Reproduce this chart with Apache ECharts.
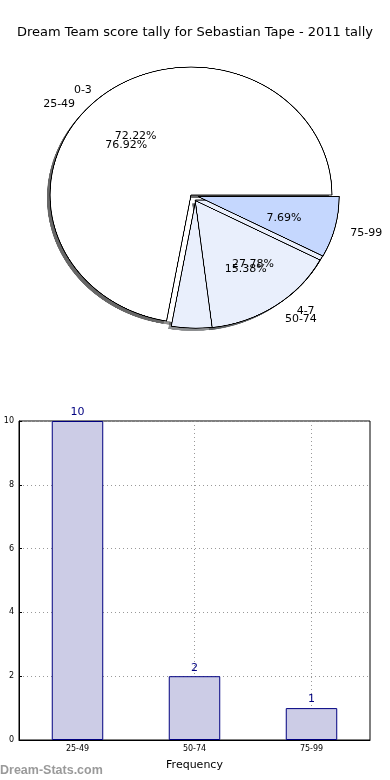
<!DOCTYPE html>
<html><head><meta charset="utf-8">
<script src="https://cdn.jsdelivr.net/npm/echarts@6/dist/echarts.min.js"></script>
<style>
html,body{margin:0;padding:0;background:#fff}
#wrap{position:relative;width:390px;height:780px}
#p{position:absolute;left:0;top:0;width:390px;height:400px;transform-origin:191px 195px;transform:scale(1.052,0.955)}
#c{position:absolute;left:0;top:0;width:390px;height:780px}
</style>
</head><body><div id="wrap"><div id="p"></div><div id="c"></div></div>
<script>
const titleText = 'Dream Team score tally for Sebastian Tape - 2011 tally';
const watermark = 'Dream-Stats.com';
const pieACats = ['0-3', '4-7'];
const pieAVals = [13, 5];
const pieAExplode = [false, true];
const pieBCats = ['25-49', '50-74', '75-99'];
const pieBVals = [10, 2, 1];
const pieBExplode = [false, true, true];
const barCats = ['25-49', '50-74', '75-99'];
const barVals = [10, 2, 1];
const yTicks = [0, 2, 4, 6, 8, 10];
const xName = 'Frequency';
const yName = 'Score Interval';

const CLEAR = 'rgba(255,255,255,0)';
const pieAColors = ['#ffffff', '#e9effc'];
const pieBColors = [CLEAR, '#e9effc', '#c5d7fe'];
const pieBUnder = ['#ffffff', CLEAR, CLEAR];
const pieAShadow = ['rgba(77,77,77,0.62)', 'rgba(70,72,76,0.62)'];
const pieBShadow = ['rgba(77,77,77,0.62)', 'rgba(70,72,76,0.62)', 'rgba(59,65,76,0.62)'];
const R = 134, C = [191, 195], EXP = 7;
const SX = 1.052, SY = 0.955;   // matplotlib's elliptical axes aspect
const SC = [C[0] - 3, C[1] + 3];
const FONT = 'DejaVu Sans';

function base(center, radius, z) {
  return {
    type: 'pie', z: z, center: center, radius: [0, radius], startAngle: 0, clockwise: false,
    selectedMode: 'multiple', selectedOffset: EXP, avoidLabelOverlap: false, silent: true,
    labelLayout: { hideOverlap: false }, emphasis: { disabled: true }, labelLine: { show: false }
  };
}
// move labels onto the same ellipse as the stretched wedges
function ellipseLabel(p) {
  const r = p.labelRect;
  const x = r.x + r.width / 2, y = r.y + r.height / 2;
  return { hideOverlap: false, dx: (x - C[0]) * (SX - 1) + 1, dy: (y - C[1]) * (SY - 1) + 2.5 };
}
function plainSeries(center, z, cats, vals, expl, colors, border) {
  return Object.assign(base(center, R, z), {
    itemStyle: border ? { borderColor: '#000', borderWidth: 1 } : { borderWidth: 0 },
    label: { show: false },
    data: cats.map((n, i) => {
      const it = { name: n, value: vals[i], selected: expl[i], itemStyle: { color: colors[i] } };
      if (colors[i] === CLEAR) it.itemStyle.borderWidth = 0;
      return it;
    })
  });
}
function nameSeries(cats, vals, expl) {
  return Object.assign(base(C, R, 4), {
    itemStyle: { color: 'rgba(0,0,0,0)', borderWidth: 0 },
    label: { show: true, position: 'outside', formatter: '{b}', fontSize: 11, color: '#000', fontFamily: FONT, distanceToLabelLine: 0 },
    labelLine: { show: false, length: R * 0.1, length2: 0 },
    labelLayout: ellipseLabel,
    data: cats.map((n, i) => ({ name: n, value: vals[i], selected: expl[i] }))
  });
}
function pctSeries(cats, vals, expl) {
  const total = vals.reduce((a, b) => a + b, 0);
  return Object.assign(base(C, R * 1.2, 5), {
    itemStyle: { color: 'rgba(0,0,0,0)', borderWidth: 0 },
    label: { show: true, position: 'inside', formatter: p => (p.value / total * 100).toFixed(2) + '%', fontSize: 11, color: '#000', fontFamily: FONT, rotate: 0, textBorderWidth: 0 },
    labelLayout: ellipseLabel,
    data: cats.map((n, i) => ({ name: n, value: vals[i], selected: expl[i] }))
  });
}

// pie wedges (drawn in a container stretched into matplotlib's elliptical aspect)
const pieChart = echarts.init(document.getElementById('p'), null, { renderer: 'canvas', devicePixelRatio: 3 });
pieChart.setOption({
  animation: false,
  series: [
    plainSeries(SC, 1, pieACats, pieAVals, pieAExplode, pieAShadow, false),
    plainSeries(SC, 1, pieBCats, pieBVals, pieBExplode, pieBShadow, false),
    plainSeries(C, 2, pieBCats, pieBVals, pieBExplode, pieBUnder, false),
    plainSeries(C, 3, pieACats, pieAVals, pieAExplode, pieAColors, true),
    plainSeries(C, 3, pieBCats, pieBVals, pieBExplode, pieBColors, true)
  ]
});

const chart = echarts.init(document.getElementById('c'), null, { renderer: 'canvas' });
chart.setOption({
  animation: false,
  backgroundColor: 'transparent',
  textStyle: { fontFamily: FONT },
  title: [
    { text: titleText, left: 'center', top: 21, textStyle: { fontSize: 13, fontWeight: 'normal', color: '#000', fontFamily: FONT } },
    { text: watermark, left: -5, bottom: -2, textStyle: { fontSize: 12.5, fontWeight: 'bold', color: '#9a9a9a', fontFamily: 'Liberation Sans' } }
  ],
  grid: { left: 19, right: 20, top: 421, bottom: 40, outerBoundsMode: 'none', containLabel: false, show: true, borderColor: '#000', borderWidth: 1, backgroundColor: 'transparent' },
  xAxis: {
    type: 'category', data: barCats,
    name: xName, nameLocation: 'middle', nameGap: 20, nameTextStyle: { fontSize: 11, color: '#000' },
    axisLine: { lineStyle: { color: '#000', width: 1 } },
    axisTick: { show: true, alignWithLabel: true, inside: true, length: 3, lineStyle: { color: '#000' } },
    axisLabel: { fontSize: 8, color: '#000', margin: 5 },
    splitLine: { show: true, alignWithLabel: true, lineStyle: { type: [1, 3], color: '#999' } }
  },
  yAxis: {
    type: 'value', min: yTicks[0], max: yTicks[yTicks.length - 1], interval: yTicks[1] - yTicks[0],
    name: yName, nameLocation: 'middle', nameGap: 22, nameMoveOverlap: false, nameTextStyle: { fontSize: 11, color: '#000' },
    axisLine: { show: true, lineStyle: { color: '#000', width: 1 } },
    axisTick: { show: true, inside: true, length: 3, lineStyle: { color: '#000' } },
    axisLabel: { fontSize: 8, color: '#000', margin: 5 },
    splitLine: { show: true, lineStyle: { type: [1, 3], color: '#999' } }
  },
  series: [
    nameSeries(pieACats, pieAVals, pieAExplode),
    nameSeries(pieBCats, pieBVals, pieBExplode),
    pctSeries(pieACats, pieAVals, pieAExplode),
    pctSeries(pieBCats, pieBVals, pieBExplode),
    {
      type: 'bar', data: barVals, barWidth: '44%', silent: true,
      itemStyle: { color: '#ccccE6', borderColor: '#000080', borderWidth: 1 },
      label: { show: true, position: 'top', distance: 3, fontSize: 11, color: '#000080' }
    }
  ]
});
</script></body></html>
